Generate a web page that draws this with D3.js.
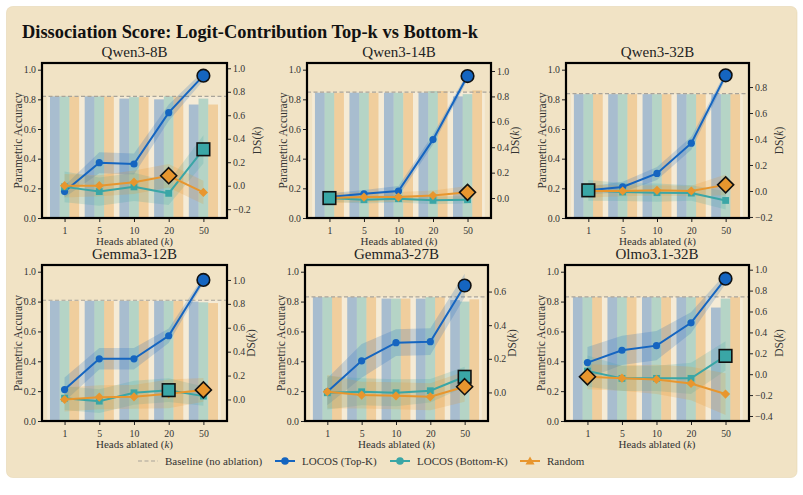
<!DOCTYPE html>
<html><head><meta charset="utf-8">
<script src="https://cdn.jsdelivr.net/npm/d3@7"></script>
<style>body{margin:0;background:#fff} text{font-family:"Liberation Serif","DejaVu Serif",serif}</style>
</head><body><svg id="c" width="803" height="495"></svg>
<script>
// ---------------- data ----------------
const kLabels = ["1", "5", "10", "20", "50"];
const models = ["Qwen3-8B", "Qwen3-14B", "Qwen3-32B", "Gemma3-12B", "Gemma3-27B", "Olmo3.1-32B"];
const baselineAcc = [0.82, 0.849, 0.838, 0.809, 0.832, 0.832];

// Parametric accuracy (bars)
const accTopK = [
  [0.82, 0.82, 0.805, 0.80, 0.765],
  [0.845, 0.845, 0.845, 0.845, 0.82],
  [0.835, 0.835, 0.835, 0.835, 0.835],
  [0.805, 0.805, 0.805, 0.805, 0.80],
  [0.83, 0.83, 0.82, 0.82, 0.81],
  [0.83, 0.83, 0.83, 0.83, 0.76]
];
const accBottomK = [
  [0.82, 0.82, 0.815, 0.82, 0.805],
  [0.845, 0.845, 0.845, 0.855, 0.835],
  [0.835, 0.835, 0.835, 0.835, 0.835],
  [0.805, 0.805, 0.805, 0.805, 0.795],
  [0.83, 0.83, 0.82, 0.83, 0.80],
  [0.83, 0.83, 0.83, 0.83, 0.82]
];
const accRandom = [
  [0.82, 0.82, 0.815, 0.82, 0.765],
  [0.845, 0.845, 0.845, 0.855, 0.86],
  [0.835, 0.835, 0.835, 0.835, 0.835],
  [0.805, 0.805, 0.805, 0.805, 0.79],
  [0.83, 0.83, 0.82, 0.83, 0.815],
  [0.83, 0.83, 0.83, 0.83, 0.83]
];

// Dissociation score DS(k) (lines)
const dsTopK = [
  [-0.05, 0.196, 0.185, 0.622, 0.937],
  [0.008, 0.034, 0.055, 0.46, 0.96],
  [0.005, 0.031, 0.135, 0.368, 0.89],
  [0.083, 0.34, 0.34, 0.533, 1.0],
  [0.004, 0.188, 0.296, 0.302, 0.636],
  [0.111, 0.229, 0.273, 0.492, 0.914]
];
const dsBottomK = [
  [-0.01, -0.05, -0.01, -0.065, 0.31],
  [0.0, -0.013, -0.005, -0.018, -0.013],
  [0.005, -0.008, -0.013, -0.016, -0.073],
  [0.011, -0.014, 0.056, 0.078, 0.028],
  [-0.002, 0.004, -0.002, 0.01, 0.093],
  [0.03, -0.04, -0.04, -0.04, 0.175]
];
const dsRandom = [
  [0.0, 0.0, 0.03, 0.085, -0.057],
  [0.0, 0.008, 0.008, 0.02, 0.045],
  [0.0, 0.0, 0.005, 0.0, 0.047],
  [0.0, 0.019, 0.022, 0.047, 0.08],
  [0.004, -0.016, -0.02, -0.026, 0.034],
  [-0.025, -0.038, -0.05, -0.089, -0.19]
];
// uncertainty half-widths (shaded bands)
const ciTopK = [
  [0.05, 0.09, 0.09, 0.07, 0.04],
  [0.03, 0.03, 0.04, 0.04, 0.03],
  [0.03, 0.04, 0.05, 0.05, 0.03],
  [0.1, 0.09, 0.09, 0.06, 0.03],
  [0.08, 0.1, 0.08, 0.08, 0.07],
  [0.15, 0.14, 0.14, 0.1, 0.05]
];
const ciBottomK = [
  [0.13, 0.12, 0.12, 0.1, 0.12],
  [0.03, 0.03, 0.03, 0.03, 0.03],
  [0.08, 0.07, 0.07, 0.06, 0.07],
  [0.1, 0.1, 0.1, 0.1, 0.08],
  [0.1, 0.08, 0.08, 0.07, 0.06],
  [0.15, 0.12, 0.12, 0.15, 0.14]
];
const ciRandom = [
  [0.1, 0.09, 0.1, 0.1, 0.1],
  [0.04, 0.04, 0.04, 0.04, 0.05],
  [0.05, 0.04, 0.04, 0.04, 0.08],
  [0.1, 0.1, 0.1, 0.12, 0.1],
  [0.1, 0.08, 0.08, 0.08, 0.09],
  [0.12, 0.12, 0.14, 0.16, 0.2]
];
const dsLimits = [[-0.275, 1.045], [-0.157, 1.063], [-0.208, 0.985], [-0.18, 1.125], [-0.17, 0.758], [-0.448, 1.045]];
const dsTicks = [
  [-0.2, 0, 0.2, 0.4, 0.6, 0.8, 1.0],
  [0, 0.2, 0.4, 0.6, 0.8, 1.0],
  [-0.2, 0, 0.2, 0.4, 0.6, 0.8],
  [0, 0.2, 0.4, 0.6, 0.8, 1.0],
  [0, 0.2, 0.4, 0.6],
  [-0.4, -0.2, 0, 0.2, 0.4, 0.6, 0.8, 1.0]
];
const accTicks = [0, 0.2, 0.4, 0.6, 0.8, 1.0];
const legendLabels = ["Baseline (no ablation)", "LOCOS (Top-K)", "LOCOS (Bottom-K)", "Random"];

// ---------------- layout / style ----------------
const COL = {top: "#1565c0", bottom: "#3aa6a6", random: "#e8962e"};
const boxes = [
  {x0: 42, x1: 227, y0: 63, y1: 218}, {x0: 307, x1: 491, y0: 63, y1: 218}, {x0: 566, x1: 749, y0: 63, y1: 218},
  {x0: 42, x1: 227, y0: 265, y1: 421}, {x0: 305, x1: 488, y0: 265, y1: 421}, {x0: 565, x1: 749, y0: 265, y1: 421}
];
const svg = d3.select("#c");
svg.append("rect").attr("x", 6.5).attr("y", 6.5).attr("width", 790.5).attr("height", 471)
  .attr("rx", 6).attr("fill", "#f1e3c5").attr("stroke", "#e6d6b4").attr("stroke-width", 0.6);

svg.append("text").attr("x", 22).attr("y", 38).attr("font-size", 19).attr("font-weight", "bold")
  .attr("fill", "#111").attr("textLength", 456).attr("lengthAdjust", "spacingAndGlyphs")
  .text("Dissociation Score: Logit-Contribution Top-k vs Bottom-k");

const fmt = d => d3.format(".1f")(d).replace("-", "\u2212");
const BW = 0.28;

function marker(g, type, cx, cy, size, color, big) {
  let el;
  if (type === "circle") {
    el = g.append("circle").attr("cx", cx).attr("cy", cy).attr("r", size);
  } else if (type === "square") {
    el = g.append("rect").attr("x", cx - size).attr("y", cy - size).attr("width", 2 * size).attr("height", 2 * size);
  } else if (type === "diamond") {
    el = g.append("path").attr("d", `M${cx},${cy - size}L${cx + size},${cy}L${cx},${cy + size}L${cx - size},${cy}Z`);
  } else {
    el = g.append("path").attr("d", `M${cx},${cy - size}L${cx + size},${cy + size * 0.75}L${cx - size},${cy + size * 0.75}Z`);
  }
  el.attr("fill", color);
  if (big) el.attr("stroke", "#111").attr("stroke-width", 1.6);
  return el;
}

models.forEach((name, i) => {
  const b = boxes[i];
  const g = svg.append("g");
  const x = d3.scaleLinear().domain([-0.65, 4.68]).range([b.x0, b.x1]);
  const yL = d3.scaleLinear().domain([0, 1.045]).range([b.y1, b.y0]);
  const yR = d3.scaleLinear().domain(dsLimits[i]).range([b.y1, b.y0]);

  // light baseline band under the bars
  g.append("rect").attr("x", x(-0.5)).attr("width", x(4.5) - x(-0.5))
    .attr("y", yL(baselineAcc[i])).attr("height", yL(0) - yL(baselineAcc[i]))
    .attr("fill", "#fff").attr("fill-opacity", 0.3);

  const accSeries = [[accTopK[i], COL.top], [accBottomK[i], COL.bottom], [accRandom[i], COL.random]];
  accSeries.forEach(([vals, c], s) => {
    g.selectAll(null).data(vals).enter().append("rect")
      .attr("x", (d, j) => x(j + (s - 1) * BW - BW / 2))
      .attr("width", x(BW) - x(0))
      .attr("y", d => yL(d)).attr("height", d => yL(0) - yL(d))
      .attr("fill", c).attr("fill-opacity", 0.34);
  });
  g.append("line").attr("x1", b.x0).attr("x2", b.x1).attr("y1", yL(baselineAcc[i])).attr("y2", yL(baselineAcc[i]))
    .attr("stroke", "#a9a49a").attr("stroke-width", 1.2).attr("stroke-dasharray", "4,2.5");

  const series = [
    {v: dsTopK[i], e: ciTopK[i], c: COL.top, m: "circle", s: 3.6, bs: 6.3},
    {v: dsBottomK[i], e: ciBottomK[i], c: COL.bottom, m: "square", s: 3.4, bs: 6.3},
    {v: dsRandom[i], e: ciRandom[i], c: COL.random, m: "diamond", s: 4.6, bs: 8}
  ];
  const area = d3.area().x(d => x(d.j)).y0(d => yR(d.v - d.e)).y1(d => yR(d.v + d.e));
  const line = d3.line().x(d => x(d.j)).y(d => yR(d.v));
  series.forEach(sr => {
    const pts = sr.v.map((v, j) => ({j, v, e: sr.e[j]}));
    g.append("path").attr("d", area(pts)).attr("fill", sr.c).attr("fill-opacity", 0.2);
  });
  series.forEach(sr => {
    const pts = sr.v.map((v, j) => ({j, v}));
    g.append("path").attr("d", line(pts)).attr("fill", "none").attr("stroke", sr.c).attr("stroke-width", 2);
    pts.forEach(p => marker(g, sr.m, x(p.j), yR(p.v), sr.s, sr.c, false));
  });
  series.forEach(sr => {
    const jm = d3.maxIndex(sr.v);
    marker(g, sr.m, x(jm), yR(sr.v[jm]), sr.bs, sr.c, true);
  });

  // frame
  g.append("rect").attr("x", b.x0).attr("y", b.y0).attr("width", b.x1 - b.x0).attr("height", b.y1 - b.y0)
    .attr("fill", "none").attr("stroke", "#000").attr("stroke-width", 2.2);

  const styleAxis = ax => {
    ax.select(".domain").remove();
    ax.selectAll("line").attr("stroke", "#222");
    ax.selectAll("text").attr("fill", "#333").attr("font-size", 9.8).style("font-family", '"Liberation Serif",serif');
  };
  const la = g.append("g").attr("transform", `translate(${b.x0 - 1},0)`)
    .call(d3.axisLeft(yL).tickValues(accTicks).tickFormat(d3.format(".1f")).tickSize(3).tickPadding(2));
  styleAxis(la);
  const ra = g.append("g").attr("transform", `translate(${b.x1 + 1},0)`)
    .call(d3.axisRight(yR).tickValues(dsTicks[i]).tickFormat(fmt).tickSize(3).tickPadding(2));
  styleAxis(ra);
  const ba = g.append("g").attr("transform", `translate(0,${b.y1 + 1})`)
    .call(d3.axisBottom(x).tickValues([0, 1, 2, 3, 4]).tickFormat(j => kLabels[j]).tickSize(3).tickPadding(5));
  styleAxis(ba);

  let maxW = 0;
  ra.selectAll("text").each(function () { maxW = Math.max(maxW, this.getComputedTextLength()); });
  let maxL = 0;
  la.selectAll("text").each(function () { maxL = Math.max(maxL, this.getComputedTextLength()); });

  const lx = b.x0 - 1 - 5 - maxL - 2;
  const ym = (b.y0 + b.y1) / 2;
  g.append("text").attr("transform", `translate(${lx},${ym}) rotate(-90)`).attr("text-anchor", "middle")
    .attr("font-size", 11.5).attr("fill", "#333").text("Parametric Accuracy");
  const rx = b.x1 + 1 + 5 + maxW + 2;
  const rt = g.append("text").attr("transform", `translate(${rx},${ym}) rotate(-90)`).attr("text-anchor", "middle")
    .attr("font-size", 11.5).attr("fill", "#333").attr("dominant-baseline", "hanging");
  rt.append("tspan").text("DS(");
  rt.append("tspan").attr("font-style", "italic").text("k");
  rt.append("tspan").text(")");

  const xt = g.append("text").attr("x", (b.x0 + b.x1) / 2).attr("y", b.y1 + 27).attr("text-anchor", "middle")
    .attr("font-size", 11).attr("fill", "#333");
  xt.append("tspan").text("Heads ablated (");
  xt.append("tspan").attr("font-style", "italic").text("k");
  xt.append("tspan").text(")");

  g.append("text").attr("x", (b.x0 + b.x1) / 2).attr("y", b.y0 - 6).attr("text-anchor", "middle")
    .attr("font-size", 15).attr("fill", "#222").text(name);
});

// legend
const ly = 461;
const lg = svg.append("g");
const items = [
  {x: 138, type: "dash", c: "#a9a49a"},
  {x: 275, type: "circle", c: COL.top},
  {x: 390, type: "circle", c: COL.bottom},
  {x: 520, type: "tri", c: COL.random}
];
items.forEach((it, k) => {
  if (it.type === "dash") {
    lg.append("line").attr("x1", it.x).attr("x2", it.x + 20).attr("y1", ly).attr("y2", ly)
      .attr("stroke", it.c).attr("stroke-width", 1.2).attr("stroke-dasharray", "4,2.5");
  } else {
    lg.append("line").attr("x1", it.x).attr("x2", it.x + 20).attr("y1", ly).attr("y2", ly)
      .attr("stroke", it.c).attr("stroke-width", 2);
    marker(lg, it.type, it.x + 10, ly, it.type === "tri" ? 4.5 : 3.8, it.c, false);
  }
  lg.append("text").attr("x", it.x + 27).attr("y", ly + 3.8).attr("font-size", 11).attr("fill", "#333").text(legendLabels[k]);
});
</script></body></html>
